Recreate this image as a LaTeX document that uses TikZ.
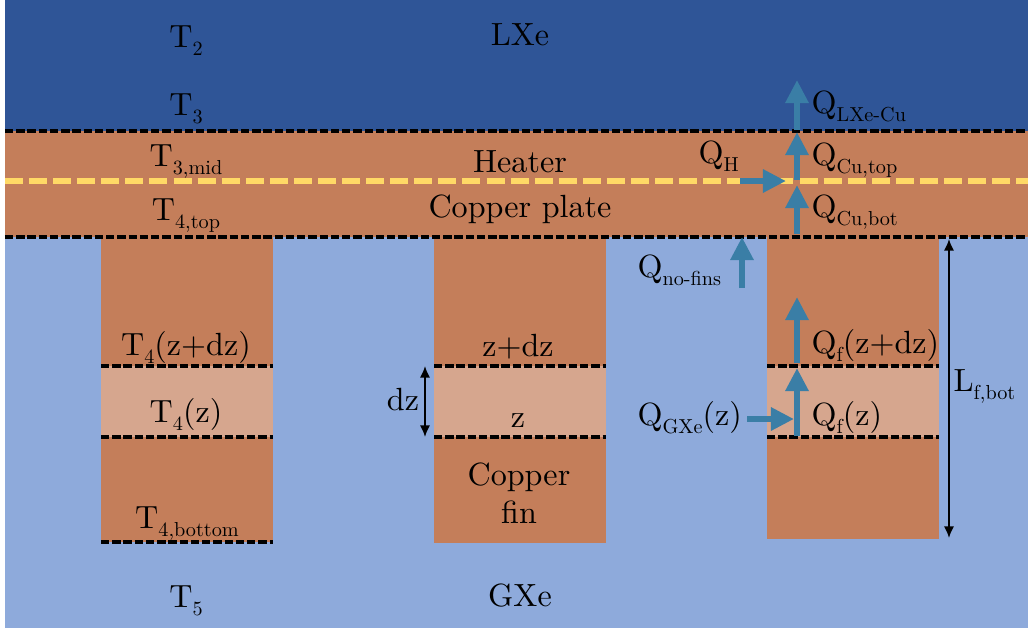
\documentclass[tikz,border=0pt]{standalone}
\usepackage{fontspec}
\setmainfont{Latin Modern Roman}
\usepackage{graphicx}
\usetikzlibrary{arrows.meta}
\definecolor{lxe}{HTML}{2F5597}
\definecolor{cu}{HTML}{C47E5A}
\definecolor{cul}{HTML}{D6A68E}
\definecolor{gxe}{HTML}{8EAADB}
\definecolor{heat}{HTML}{FFD966}
\definecolor{flow}{HTML}{3A7EA6}
\newcommand\sbs[1]{\raisebox{-2.5pt}{\scalebox{0.63}{#1}}}
\begin{document}
\begin{tikzpicture}[x=0.3115pt,y=-0.3115pt,
 bnd/.style={black, line width=1pt, dash pattern=on 2.6pt off 0.9pt},
 heatline/.style={heat, line width=1.8pt, dash pattern=on 5.6pt off 1.9pt},
 flowarr/.style={flow, line width=2.1pt, -{Triangle[length=7.2pt,width=6.9pt]}},
 dimarr/.style={black, line width=0.6pt, {Latex[length=3.6pt,width=3.2pt]}-{Latex[length=3.6pt,width=3.2pt]}},
 lbl/.style={anchor=base, inner sep=0pt},
 lbll/.style={anchor=base west, inner sep=0pt}]
\useasboundingbox (0,0) rectangle (1028,630);
% background layers
\fill[white] (0,0) rectangle (1028,630);
\fill[lxe] (5,0) rectangle (1028,131);
\fill[cu] (5,131) rectangle (1028,237);
\fill[gxe] (5,237) rectangle (1028,628);
% fins
\foreach \xa/\xb/\yb in {101/273/542, 434/606/543, 767/939/539}{
  \fill[cu] (\xa,237) rectangle (\xb,\yb);
  \fill[cul] (\xa,366) rectangle (\xb,437);
  \draw[bnd] (\xa,366) -- (\xb,366);
  \draw[bnd] (\xa,437) -- (\xb,437);
}
\draw[bnd] (101,542) -- (273,542);
% boundaries
\draw[bnd] (5,131) -- (1028,131);
\draw[bnd] (5,237) -- (1028,237);
\draw[heatline] (5,181) -- (1028,181);

% left column labels
\node[lbl] (t2) at (186,47) {T\sbs{2}};
\node[lbl] (t3) at (186,115) {T\sbs{3}};
\node[lbl] (t3m) at (186,166) {T\sbs{3,mid}};
\node[lbl] (t4t) at (186,220) {T\sbs{4,top}};
\node[lbl] (t4zdz) at (186,355) {T\sbs{4}(z+dz)};
\node[lbl] (t4z) at (186,422) {T\sbs{4}(z)};
\node[lbl] (t4b) at (187,528) {T\sbs{4,bottom}};
\node[lbl] (t5) at (186,607) {T\sbs{5}};

% middle column labels
\node[lbl] (lxe) at (520,45) {LXe};
\node[lbl] (heater) at (520,172) {Heater};
\node[lbl] (plate) at (520,217) {Copper plate};
\node[lbl] (zdz) at (518,356) {z+dz};
\node[lbl] (z) at (518,427) {z};
\node[lbl] (cfin1) at (519,485) {Copper};
\node[lbl] (cfin2) at (519,523) {fin};
\node[lbl] (gxe) at (520,606) {GXe};
\node[lbl] (dz) at (403,410) {dz};
\coordinate (dzt) at (425,366);
\coordinate (dzb) at (425,437);
\draw[dimarr] (dzt) -- (dzb);

% length arrow
\coordinate (lt) at (949,239);
\coordinate (lb) at (949,538);
\draw[dimarr] (lt) -- (lb);
\node[lbll] (lf) at (953,391) {L\sbs{f,bot}};

% heat flow arrows
\coordinate (a1s) at (797,130); \coordinate (a1e) at (797,80);
\coordinate (a2s) at (797,180); \coordinate (a2e) at (797,132);
\coordinate (a3s) at (797,234); \coordinate (a3e) at (797,185);
\coordinate (ahs) at (740,181); \coordinate (ahe) at (786,181);
\coordinate (ans) at (742,288); \coordinate (ane) at (742,237);
\coordinate (afs) at (797,363); \coordinate (afe) at (797,297);
\coordinate (azs) at (797,436); \coordinate (aze) at (797,368);
\coordinate (ags) at (747,419); \coordinate (age) at (794,419);
\draw[flowarr] (a1s) -- (a1e);
\draw[flowarr] (a2s) -- (a2e);
\draw[flowarr] (a3s) -- (a3e);
\draw[flowarr] (ahs) -- (ahe);
\draw[flowarr] (ans) -- (ane);
\draw[flowarr] (afs) -- (afe);
\draw[flowarr] (azs) -- (aze);
\draw[flowarr] (ags) -- (age);

\node[lbll] (qlxe) at (811,113) {Q\sbs{LXe-Cu}};
\node[lbll] (qcut) at (811,165) {Q\sbs{Cu,top}};
\node[lbll] (qcub) at (811,217) {Q\sbs{Cu,bot}};
\node[lbll] (qh) at (698,163) {Q\sbs{H}};
\node[lbll] (qnf) at (637,277) {Q\sbs{no-fins}};
\node[lbll] (qfzdz) at (811,353) {Q\sbs{f}(z+dz)};
\node[lbll] (qfz) at (811,425) {Q\sbs{f}(z)};
\node[lbll] (qgxe) at (637,425) {Q\sbs{GXe}(z)};
\end{tikzpicture}
\end{document}
